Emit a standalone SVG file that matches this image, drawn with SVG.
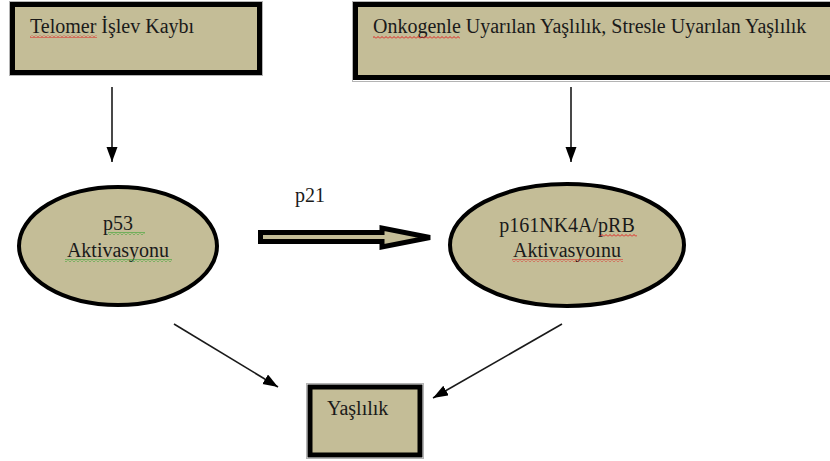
<svg xmlns="http://www.w3.org/2000/svg" width="830" height="461" viewBox="0 0 830 461">
<defs>
<style>
.box{fill:#c4bd97;stroke:#000;stroke-width:5}
.halo{fill:none;stroke:#b4b4b4;stroke-width:1}
.ell{fill:#c4bd97;stroke:#000;stroke-width:4}
.t{font-family:"Liberation Serif","Times New Roman",serif;font-size:20px;fill:#1a1a1a}
.c{text-anchor:middle}
.ln{stroke:#1a1a1a;stroke-width:1.6;fill:none}
</style>
<marker id="ah" markerUnits="userSpaceOnUse" markerWidth="16" markerHeight="12" refX="15" refY="5.5" orient="auto">
<path d="M0,0 L15,5.5 L0,11 z" fill="#000"/>
</marker>
<pattern id="sqr" width="4" height="3" patternUnits="userSpaceOnUse">
<path d="M0,2.5 L2,0.5 L4,2.5" stroke="#e02020" fill="none" stroke-width="1"/>
</pattern>
<pattern id="sqg" width="4" height="3" patternUnits="userSpaceOnUse">
<path d="M0,2.5 L2,0.5 L4,2.5" stroke="#20a020" fill="none" stroke-width="1"/>
</pattern>
</defs>

<g id="telomer">
<rect class="halo" x="9.5" y="1.5" width="253" height="74"/>
<rect class="box" x="12.5" y="4.5" width="247" height="68"/>
<text class="t" x="30" y="33">Telomer İşlev Kaybı</text>
<rect x="30" y="35" width="67" height="3" fill="url(#sqr)"/>
</g>

<g id="onkogen">
<rect class="halo" x="352.5" y="1.5" width="485" height="80"/>
<rect class="box" x="355.5" y="4.5" width="480" height="73"/>
<text class="t" x="373" y="33">Onkogenle Uyarılan Yaşlılık, Stresle Uyarılan Yaşlılık</text>
<rect x="373" y="36" width="87" height="3" fill="url(#sqr)"/>
</g>

<g id="p53">
<ellipse class="ell" cx="118" cy="246" rx="99" ry="59"/>
<text class="t c" x="118" y="230">p53</text>
<text class="t c" x="118" y="257">Aktivasyonu</text>
<rect x="108" y="232" width="37" height="3" fill="url(#sqg)"/>
<rect x="65" y="259" width="107" height="3" fill="url(#sqg)"/>
</g>

<g id="p161">
<ellipse class="ell" cx="567" cy="245" rx="117" ry="61"/>
<text class="t c" x="567" y="232">p161NK4A/pRB</text>
<text class="t c" x="567" y="257">Aktivasyoınu</text>
<rect x="600" y="234" width="37" height="3" fill="url(#sqr)"/>
<rect x="512" y="259" width="111" height="3" fill="url(#sqr)"/>
</g>

<g id="yaslilik">
<rect class="halo" x="306.5" y="383.5" width="117" height="75"/>
<rect class="box" x="310" y="387" width="110" height="68"/>
<text class="t" x="327" y="415">Yaşlılık</text>
</g>

<g id="connectors">
<line class="ln" x1="112" y1="87" x2="112" y2="162" marker-end="url(#ah)"/>
<line class="ln" x1="571" y1="87" x2="571" y2="162" marker-end="url(#ah)"/>
<line class="ln" x1="174" y1="324" x2="278" y2="387" marker-end="url(#ah)"/>
<line class="ln" x1="562" y1="324" x2="433" y2="398" marker-end="url(#ah)"/>
<polygon points="260.5,232.5 382,232.5 382,228 430,237.5 382,247 382,241.5 260.5,241.5" fill="#c4bd97" stroke="#000" stroke-width="5" stroke-linejoin="miter"/>
<text class="t" x="295" y="202">p21</text>
</g>
</svg>
